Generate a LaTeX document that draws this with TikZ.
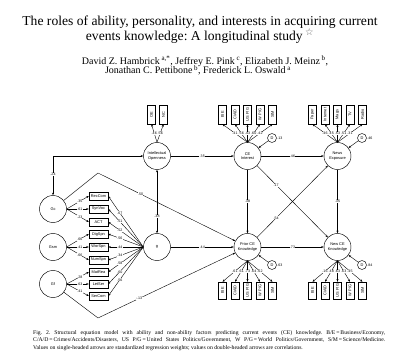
\documentclass[tikz,border=0pt]{standalone}
\usepackage{fontspec}
\setmainfont{Liberation Serif}
\newfontfamily\dsans{Liberation Sans}
\newfontfamily\djv{DejaVu Sans}
\usetikzlibrary{arrows.meta}
\newcommand\labfont{\dsans\fontsize{3.9}{4.5}\selectfont}
\newcommand\numfont{\dsans\fontsize{3.6}{4}\selectfont}
\frenchspacing
\begin{document}
\begin{tikzpicture}[x=1pt,y=-1pt,
  lat/.style={circle,draw,line width=0.45pt,minimum size=27pt,inner sep=0pt,align=center,font=\labfont},
  obs/.style={draw,line width=0.45pt,minimum width=19pt,minimum height=8.5pt,inner sep=0pt,font=\labfont},
  vobs/.style={draw,line width=0.45pt,minimum width=8pt,minimum height=19pt,inner sep=0pt,font=\labfont},
  vobsb/.style={vobs,minimum height=17pt},
  dist/.style={circle,draw,line width=0.45pt,minimum size=9pt,inner sep=0pt,font=\labfont},
  arr/.style={line width=0.4pt,-{Stealth[length=2.6pt,width=2pt]}},
  darr/.style={line width=0.4pt,{Stealth[length=2.6pt,width=2pt]}-{Stealth[length=2.6pt,width=2pt]}},
  lbl/.style={fill=white,inner sep=0.3pt,font=\numfont},
  side/.style={anchor=west,inner sep=0.5pt,font=\numfont},
  capt/.style={anchor=base west,inner sep=0,font=\fontsize{5.7}{7.5}\selectfont}]
\useasboundingbox (0,0) rectangle (400,356);
% title and authors
\node[anchor=base,font=\fontsize{13.6}{15}\selectfont] (t1) at (200,25.7) {The roles of ability, personality, and interests in acquiring current};
\node[anchor=base,font=\fontsize{13.6}{15}\selectfont] (t2) at (200,40.7) {events knowledge: A longitudinal study\,\textsuperscript{\djv\color{black!60}☆}};
\node[anchor=base,font=\fontsize{10}{12}\selectfont] (a1) at (205,64) {David Z. Hambrick\,\textsuperscript{a,*}, Jeffrey E. Pink\,\textsuperscript{c}, Elizabeth J. Meinz\,\textsuperscript{b},};
\node[anchor=base,font=\fontsize{10}{12}\selectfont] (a2) at (198,74) {Jonathan C. Pettibone\,\textsuperscript{b}, Frederick L. Oswald\,\textsuperscript{a}};
% latent variables
\node[lat] (IO) at (157,156) {Intellectual\\Openness};
\node[lat] (CEI) at (247.5,156) {CE\\Interest};
\node[lat] (NE) at (337.5,156) {News\\Exposure};
\node[lat] (PCK) at (247.5,247) {Prior CE\\Knowledge};
\node[lat] (NCK) at (337.5,247) {New CE\\Knowledge};
\node[lat] (Gc) at (53,209) {Gc};
\node[lat] (Gsm) at (53,247) {Gsm};
\node[lat] (Gf) at (53,284) {Gf};
\node[lat] (g) at (157,247) {g};
% ability indicators
\foreach \n/\t/\y in {b1/RecCom/196,b2/SynVoc/209,b3/ACT/222,b4/DigSpn/234,b5/WorSpn/247,b6/NumSpn/260,b7/MatRea/272,b8/LetSer/284,b9/SerCom/296}
  \node[obs] (\n) at (98.5,\y) {\t};
\foreach \b/\v in {b1/.35,b2/.61,b3/.23} \draw[arr] (Gc.east) -- node[lbl,pos=0.6]{\v} (\b.west);
\foreach \b/\v in {b4/.66,b5/.41,b6/.66} \draw[arr] (Gsm.east) -- node[lbl,pos=0.6]{\v} (\b.west);
\foreach \b/\v in {b7/.28,b8/.63,b9/.41} \draw[arr] (Gf.east) -- node[lbl,pos=0.6]{\v} (\b.west);
\foreach \b/\v in {b1/.67,b2/.51,b3/.52,b4/.56,b5/.44,b6/.34,b7/.58,b8/.60,b9/.56}
  \draw[arr] (g.west) -- node[lbl,pos=0.67]{\v} (\b.east);
% openness indicators
\node[vobs] (oe) at (151.5,114.5) {\rotatebox{90}{OE}};
\node[vobs] (nc) at (163.5,114.5) {\rotatebox{90}{NC}};
\draw[arr] (IO.north) -- node[lbl]{.46} (oe.south);
\draw[arr] (IO.north) -- node[lbl]{.56} (nc.south);
% CE interest indicators
\foreach \n/\t/\x/\v in {ce1/B\slash E/222.5/.41,ce2/C\slash A\slash D/235/.56,ce3/US P\slash G/247.5/.43,ce4/W P\slash G/260/.60,ce5/S\slash M/272.5/.42}{
  \node[vobs] (\n) at (\x,114.5) {\rotatebox{90}{\t}};
  \draw[arr] (CEI.north) -- node[lbl]{\v} (\n.south);}
% news exposure indicators
\foreach \n/\t/\x/\v in {ne1/Paper/312.5/.46,ne2/Internet/325/.45,ne3/Mags/337.5/.53,ne4/TV/350/.51,ne5/Radio/362.5/.31}{
  \node[vobs] (\n) at (\x,114.5) {\rotatebox{90}{\t}};
  \draw[arr] (NE.north) -- node[lbl]{\v} (\n.south);}
% prior CE knowledge indicators
\foreach \n/\t/\x/\v in {pk1/B\slash E/222.5/.61,pk2/C\slash A\slash D/235/.61,pk3/US P\slash G/247.5/.73,pk4/W P\slash G/260/.64,pk5/S\slash M/272.5/.62}{
  \node[vobsb] (\n) at (\x,290.5) {\rotatebox{90}{\t}};
  \draw[arr] (PCK.south) -- node[lbl]{\v} (\n.north);}
% new CE knowledge indicators
\foreach \n/\t/\x/\v in {nk1/B\slash E/312.5/.16,nk2/C\slash A\slash D/325/.48,nk3/US P\slash G/337.5/.63,nk4/W P\slash G/350/.63,nk5/S\slash M/362.5/.45}{
  \node[vobsb] (\n) at (\x,290.5) {\rotatebox{90}{\t}};
  \draw[arr] (NCK.south) -- node[lbl]{\v} (\n.north);}
% disturbances
\node[dist] (d1) at (272,138) {D}; \node[side] (d1v) at (d1.east) {.13};
\node[dist] (d2) at (362,138) {D}; \node[side] (d2v) at (d2.east) {.46};
\node[dist] (d3) at (272,265) {D}; \node[side] (d3v) at (d3.east) {.63};
\node[dist] (d4) at (362,265) {D}; \node[side] (d4v) at (d4.east) {.84};
\draw[arr] (d1) -- (CEI);
\draw[arr] (d2) -- (NE);
\draw[arr] (d3) -- (PCK);
\draw[arr] (d4) -- (NCK);
% structural paths
\draw[arr] (IO) -- node[lbl]{.35} (CEI);
\draw[arr] (CEI) -- node[lbl]{.46} (NE);
\draw[arr] (CEI) -- node[lbl]{.38} (PCK);
\draw[arr] (NE) -- node[lbl]{.35} (NCK);
\draw[arr] (CEI) -- node[lbl,pos=0.27]{.17} (NCK);
\draw[arr] (PCK) -- node[lbl,pos=0.27]{.54} (NE);
\draw[arr] (PCK) -- node[lbl]{.73} (NCK);
\draw[arr] (g) -- node[lbl]{.44} (PCK);
\draw[darr] (g) -- node[lbl,pos=0.26]{.38} (IO);
\draw[darr] (Gc.north) |- node[lbl,pos=0.27]{.24} (IO.west);
\coordinate (gcp) at (98,173);
\coordinate (gfp) at (98,318);
\draw[arr] (Gc) -- (gcp) -- node[lbl,pos=0.31]{.50} (PCK);
\draw[arr] (Gf) -- (gfp) -- node[lbl,pos=0.3]{-.13} (PCK);
% caption
\node[capt] (c1) at (33,334) {\makebox[352pt][s]{Fig. 2. Structural equation model with ability and non-ability factors predicting current events (CE) knowledge. B/E\,=\,Business/Economy,}};
\node[capt] (c2) at (33,341.5) {\makebox[352pt][s]{C/A/D\,=\,Crimes/Accidents/Disasters, US P/G\,=\,United States Politics/Government, W P/G\,=\,World Politics/Government, S/M\,=\,Science/Medicine.}};
\node[capt] (c3) at (33,349) {Values on single-headed arrows are standardized regression weights; values on double-headed arrows are correlations.};
\end{tikzpicture}
\end{document}
